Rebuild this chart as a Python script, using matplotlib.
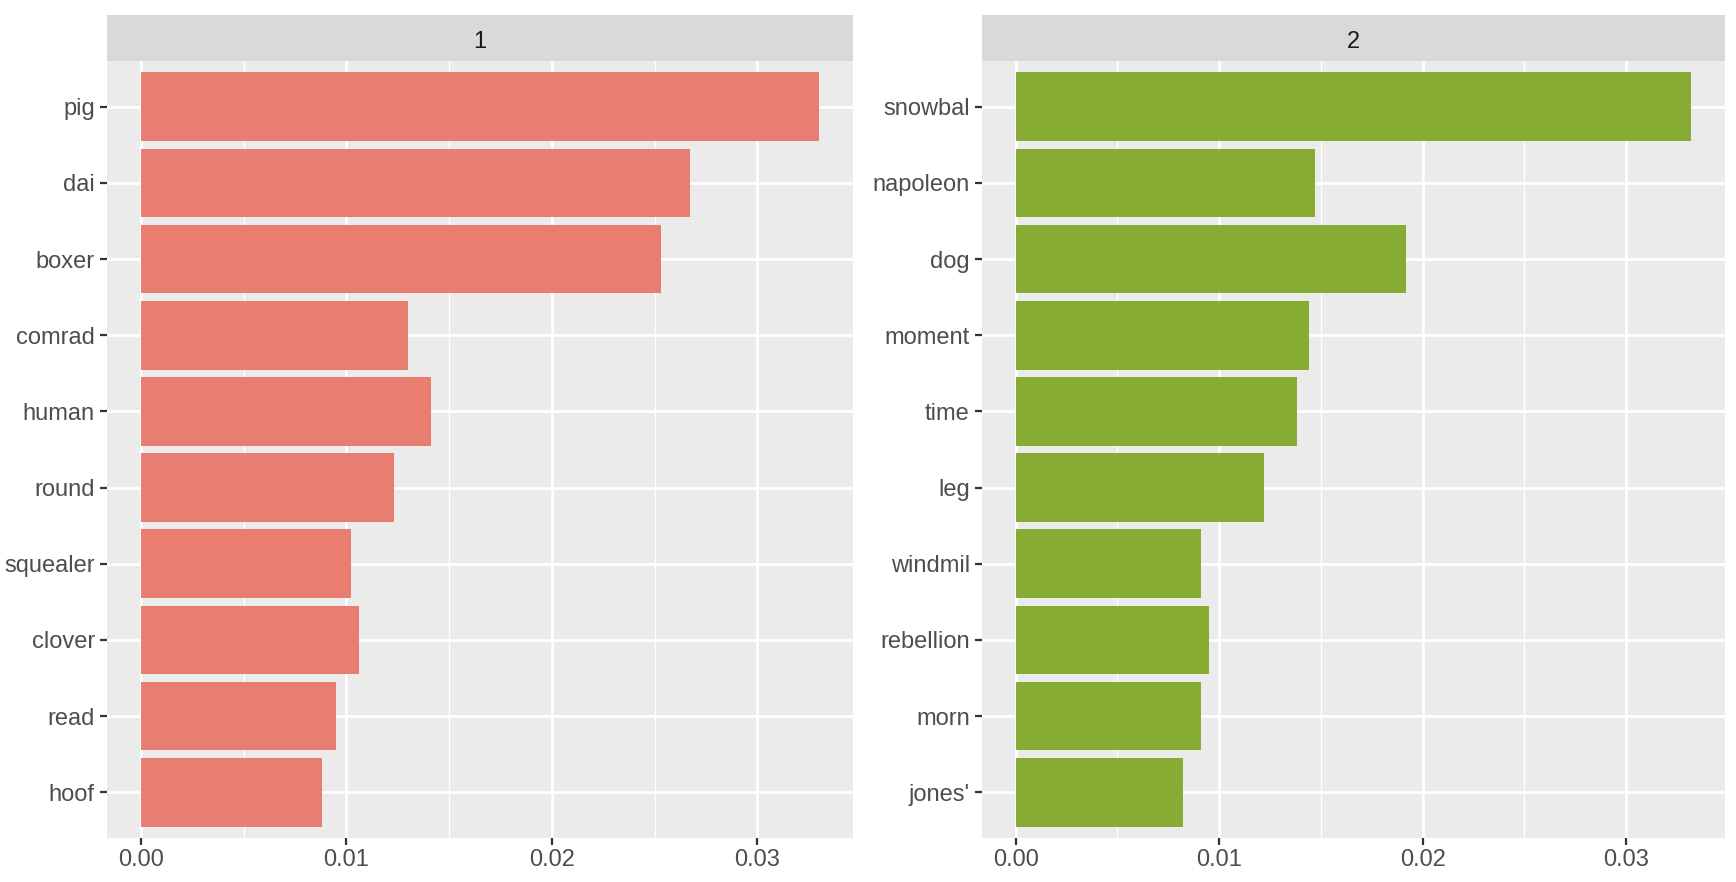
import matplotlib.pyplot as plt
import numpy as np

plt.rcParams['font.family'] = ['Liberation Sans', 'DejaVu Sans']

# topic 1
terms_1 = ["pig", "dai", "boxer", "comrad", "human", "round", "squealer", "clover", "read", "hoof"]
beta_1 = [0.0330, 0.0267, 0.0253, 0.0130, 0.0141, 0.0123, 0.0102, 0.0106, 0.0095, 0.0088]

# topic 2
terms_2 = ["snowbal", "napoleon", "dog", "moment", "time", "leg", "windmil", "rebellion", "morn", "jones'"]
beta_2 = [0.0332, 0.0147, 0.0192, 0.0144, 0.0138, 0.0122, 0.0091, 0.0095, 0.0091, 0.0082]

topics = ["1", "2"]
colors = ["#E97D72", "#87AC34"]

W, H = 1736, 882
fig = plt.figure(figsize=(W / 100, H / 100), dpi=100)
fig.patch.set_facecolor("white")

# panel boxes in pixels: left, right
panel_x = [(107, 853), (982, 1725)]
panel_top, panel_bottom = 61, 838
strip_top = 15
fs = 17

for i, (terms, beta) in enumerate([(terms_1, beta_1), (terms_2, beta_2)]):
    x0, x1 = panel_x[i]
    ax = fig.add_axes([x0 / W, (H - panel_bottom) / H, (x1 - x0) / W, (panel_bottom - panel_top) / H])
    ax.set_facecolor("#EBEBEB")
    n = len(terms)
    ypos = np.arange(n, 0, -1)
    ax.barh(ypos, beta, height=0.9, color=colors[i], lw=0, zorder=3)

    xmax = max(beta)
    ax.set_xlim(-0.05 * xmax, xmax * 1.05)
    ax.set_ylim(0.4, n + 0.6)

    ax.set_xticks([0, 0.01, 0.02, 0.03])
    ax.set_xticklabels(["0.00", "0.01", "0.02", "0.03"])
    ax.set_xticks([0.005, 0.015, 0.025], minor=True)
    ax.set_yticks(ypos)
    ax.set_yticklabels(terms)

    ax.grid(which="major", color="white", lw=2.0, zorder=1)
    ax.grid(which="minor", axis="x", color="white", lw=1.0, zorder=1)
    ax.tick_params(which="major", length=4.8, width=1.6, color="#333333",
                   labelsize=fs, labelcolor="#4D4D4D", pad=3)
    ax.tick_params(axis="y", pad=4)
    ax.tick_params(which="minor", length=0)
    for s in ax.spines.values():
        s.set_visible(False)

    # facet strip
    sax = fig.add_axes([x0 / W, (H - panel_top) / H, (x1 - x0) / W, (panel_top - strip_top) / H])
    sax.set_facecolor("#D9D9D9")
    sax.set_xticks([])
    sax.set_yticks([])
    for s in sax.spines.values():
        s.set_visible(False)
    sax.text(0.5, 0.42, topics[i], ha="center", va="center", fontsize=fs,
             color="#1A1A1A", transform=sax.transAxes)

fig.savefig("out.png", dpi=100)
